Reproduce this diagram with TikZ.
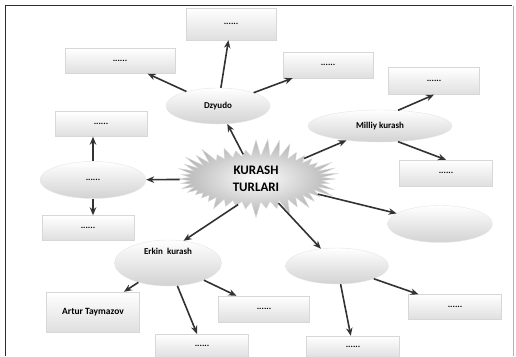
\documentclass[tikz,border=0pt]{standalone}
\usepackage{fontspec}
\setmainfont{Carlito}
\usetikzlibrary{shapes.geometric, shapes.symbols, arrows.meta, positioning}
\definecolor{framecolor}{RGB}{45,45,45}
\definecolor{arrowcolor}{RGB}{50,50,50}
\definecolor{boxedge}{RGB}{215,215,215}

\begin{document}
\begin{tikzpicture}[
    x=1pt, y=-1pt,
    box/.style={draw=boxedge, top color=white, bottom color=gray!25, minimum width=92pt, minimum height=26pt, inner sep=0pt, font=\fontsize{9}{10}\selectfont\bfseries},
    oval/.style={ellipse, draw=gray!20, top color=white, bottom color=gray!35, minimum width=105pt, minimum height=36pt, inner sep=0pt, font=\fontsize{9}{10}\selectfont\bfseries},
    arr/.style={-{Stealth[length=8pt, width=6.5pt]}, line width=1.6pt, arrowcolor}
]
    \useasboundingbox (0,0) rectangle (516,356);
    % frame
    \draw[framecolor, line width=1.6pt] (5.5,356) -- (5.5,5.5) -- (512,5.5);
    \draw[gray!60, line width=0.8pt] (513,5.5) -- (513,356);

    % centre
    \node[starburst, starburst points=44, starburst point height=18pt, random starburst=7,
          minimum width=168pt, minimum height=78pt, draw=gray!30, inner color=white, outer color=gray!60,
          align=center, font=\fontsize{13}{17}\selectfont\bfseries] (turlari) at (256,179) {KURASH\\TURLARI};

    % Dzyudo
    \node[oval, minimum width=104pt] (dzyudo) at (218,106) {Dzyudo};
    \node[box, minimum width=90pt, minimum height=32pt] (dtop) at (231,24) {......};
    \node[box, minimum width=110pt, minimum height=25pt] (dleft) at (120,61) {......};
    \node[box, minimum width=90pt] (dright) at (328,65) {......};

    % Milliy kurash
    \node[oval, minimum width=144pt, minimum height=32pt] (milliy) at (380,126) {Milliy kurash};
    \node[box, minimum width=91pt, minimum height=27pt] (mtop) at (434,81) {......};
    \node[box, minimum width=93pt] (mbot) at (446,173) {......};

    % right
    \node[oval, minimum height=37pt] (roval) at (440,224) {};

    % left
    \node[oval, minimum width=106pt, minimum height=37pt] (loval) at (93,180) {......};
    \node[box, minimum height=25pt] (lup) at (101,124) {......};
    \node[box, minimum height=25pt] (ldown) at (88,228) {......};

    % Erkin kurash
    \node[oval, minimum width=107pt, minimum height=46pt, text depth=24pt] (erkin) at (168,263) {Erkin\ \ kurash};
    \node[box, minimum width=93pt, minimum height=40pt, font=\fontsize{9.5}{10}\selectfont\bfseries] (artur) at (93,312) {Artur Taymazov};
    \node[box, minimum width=93pt, minimum height=24pt] (ebot) at (202,346) {......};
    \node[box, minimum width=91pt] (eright) at (264,309) {......};

    % bottom right
    \node[oval, minimum width=103pt] (boval) at (337,266) {};
    \node[box, minimum width=93pt, minimum height=22pt] (bbot) at (353,347) {......};
    \node[box, minimum width=93pt, minimum height=25pt] (bright) at (455,307) {......};

    % Arrows
    \draw[arr] (turlari) -- (dzyudo);
    \draw[arr] (dzyudo) -- (dtop);
    \draw[arr] (dzyudo) -- (dleft);
    \draw[arr] (dzyudo) -- (dright);
    \draw[arr] (turlari) -- (milliy);
    \draw[arr] (milliy.41) -- (mtop.south);
    \draw[arr] (milliy.-41) -- (mbot.north);
    \draw[arr] (turlari) -- (roval);
    \draw[arr] (turlari) -- (boval);
    \draw[arr] (boval) -- (bbot);
    \draw[arr] (boval) -- (bright);
    \draw[arr] (turlari.235) -- (erkin.55);
    \draw[arr] (turlari) -- (loval);
    \draw[arr] (loval.north) -- (loval.north |- lup.south);
    \draw[arr] (loval.south) -- (loval.south |- ldown.north);
    \draw[arr] (erkin) -- (artur);
    \draw[arr] (erkin) -- (ebot);
    \draw[arr] (erkin) -- (eright);
\end{tikzpicture}
\end{document}
